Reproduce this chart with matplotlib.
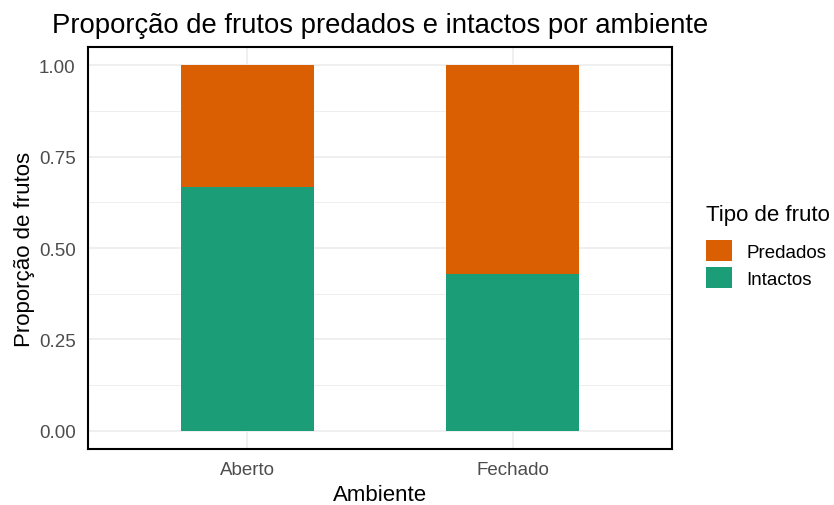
import numpy as np
import matplotlib
matplotlib.use("Agg")
import matplotlib.pyplot as plt
from matplotlib.patches import Patch

plt.rcParams['font.family'] = ['Liberation Sans', 'DejaVu Sans']

# dados
ambientes = ["Aberto", "Fechado"]
intactos = [0.667, 0.4286]
predados = [0.333, 0.5714]
cor_pred, cor_int = "#D95F02", "#1B9E77"

fig = plt.figure(figsize=(8.34, 5.06), dpi=100)
ax = fig.add_axes([88/834, 56/506, (672-88)/834, (450-48)/506])

x = np.arange(1, len(ambientes) + 1)
ax.bar(x, intactos, width=0.5, color=cor_int, zorder=2)
ax.bar(x, predados, width=0.5, bottom=intactos, color=cor_pred, zorder=2)

ax.set_xlim(0.4, 2.6)
ax.set_ylim(-0.05, 1.05)
ax.set_xticks(x)
ax.set_xticklabels(ambientes)
ax.set_yticks([0, 0.25, 0.5, 0.75, 1.0])
ax.set_yticklabels(["0.00", "0.25", "0.50", "0.75", "1.00"])
ax.set_yticks([0.125, 0.375, 0.625, 0.875], minor=True)

ax.grid(True, which='major', color='#EBEBEB', lw=1.1, zorder=0)
ax.grid(True, which='minor', axis='y', color='#EBEBEB', lw=0.6, zorder=0)
ax.tick_params(which='both', length=0, labelsize=13.5, labelcolor='#4D4D4D')
ax.tick_params(axis='y', pad=9)
ax.tick_params(axis='x', pad=9)
for s in ax.spines.values():
    s.set_color('black')
    s.set_linewidth(1.5)

ax.set_xlabel("Ambiente", fontsize=16, labelpad=4)
ax.set_ylabel("Proporção de frutos", fontsize=16, labelpad=3)
fig.text(52/834, 1 - 33/506, "Proporção de frutos predados e intactos por ambiente",
         fontsize=19.8, va='baseline', ha='left')

handles = [Patch(facecolor=cor_pred, label="Predados"),
           Patch(facecolor=cor_int, label="Intactos")]
leg = fig.legend(handles=handles, title="Tipo de fruto", loc='upper left',
                 bbox_to_anchor=(706/834, 1 - 205/506), frameon=False,
                 fontsize=13.5, title_fontsize=16, handlelength=1.39, handleheight=1.35,
                 labelspacing=0.3, handletextpad=0.75, borderaxespad=0, borderpad=0)
leg._legend_box.align = "left"
leg._legend_box.sep = 11

fig.savefig("out.png", dpi=100)
